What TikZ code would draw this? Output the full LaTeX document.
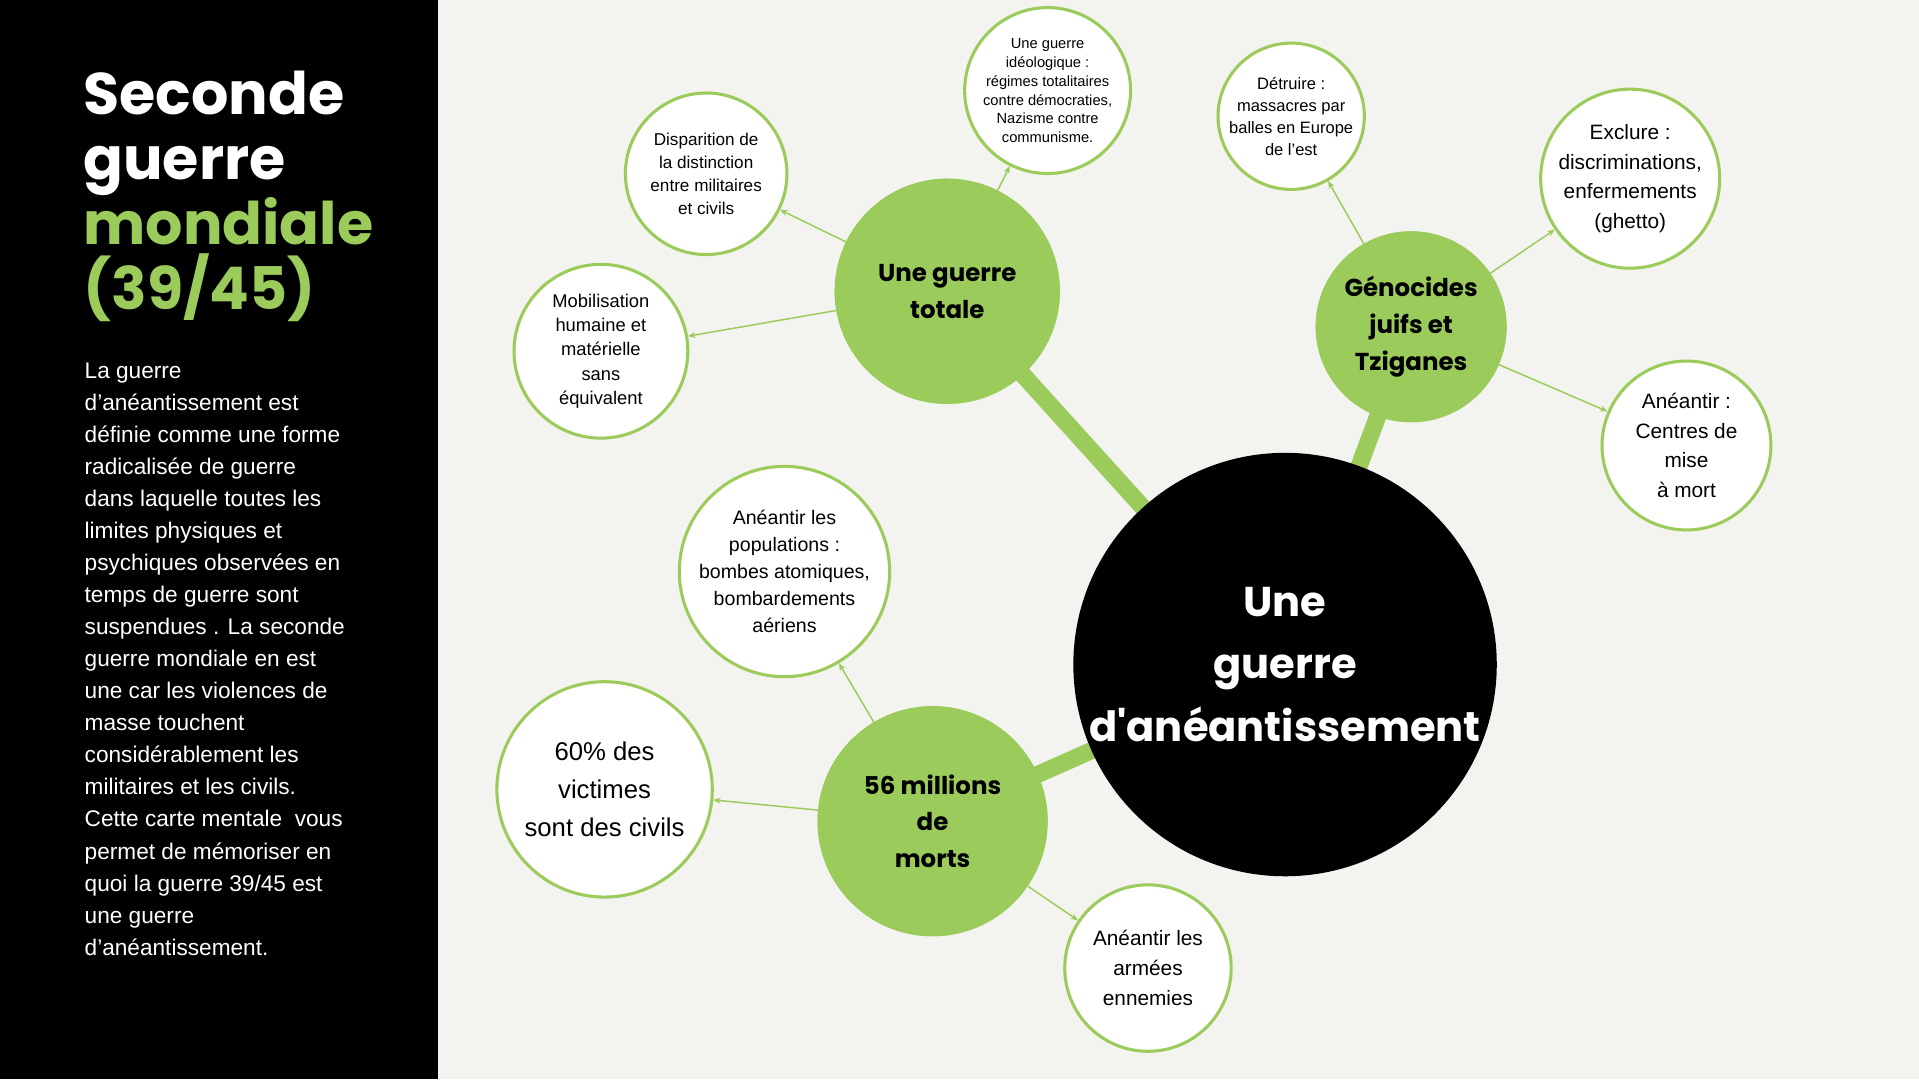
\documentclass[tikz,border=0pt]{standalone}
\usepackage{fontspec}
\setmainfont{Liberation Sans}
\newfontfamily\pop{Poppins}
\usetikzlibrary{arrows.meta}
\definecolor{gr}{HTML}{9BCB5B}
\definecolor{bg}{HTML}{F3F4EF}
\tikzset{
 wc/.style={circle,draw=gr,line width=2.5pt,fill=white,align=center,inner sep=0pt,text=black},
 gc/.style={circle,fill=gr,align=center,inner sep=0pt,font=\pop\bfseries\fontsize{20}{30}\selectfont},
 thk/.style={draw=gr,line width=14pt},
 thn/.style={draw=gr,line width=1.2pt,-{Stealth[length=6pt,width=5pt]}},
}
\begin{document}
\begin{tikzpicture}[x=1pt,y=-1pt]
\fill[bg] (0,0) rectangle (1568,882);
\fill[black] (0,0) rectangle (358,882);
\useasboundingbox (0,0) rectangle (1568,882);
\node[anchor=north west,align=left,inner sep=0pt,font=\pop\bfseries\fontsize{48}{53}\selectfont,text=white] (title) at (68,58)
 {Seconde\\guerre\\\textcolor{gr}{mondiale}\\\textcolor{gr}{(39/45)}};
\node[anchor=north west,align=left,inner sep=0pt,text=white,font=\fontsize{18.5}{26.2}\selectfont] (body) at (69,296)
 {La guerre\\d'anéantissement est\\définie comme une forme\\radicalisée de guerre\\dans laquelle toutes les\\limites physiques et\\psychiques observées en\\temps de guerre sont\\suspendues . La seconde\\guerre mondiale en est\\une car les violences de\\masse touchent\\considérablement les\\militaires et les civils.\\Cette carte mentale \ vous\\permet de mémoriser en\\quoi la guerre 39/45 est\\une guerre\\d'anéantissement.};
% centers
\coordinate (cc) at (1050,543);
\node[gc,minimum size=184pt] (tot) at (774,238) {Une guerre\\totale};
\node[gc,minimum size=156pt] (gen) at (1153,267) {Génocides\\juifs et\\Tziganes};
\node[gc,minimum size=188pt] (mor) at (762,671) {56 millions\\de\\morts};
\draw[thk] (cc) -- (tot.center);
\draw[thk] (cc) -- (gen.center);
\draw[thk] (cc) -- (mor.center);
\node[gc,minimum size=184pt] at (774,238) {Une guerre\\totale};
\node[gc,minimum size=156pt] at (1153,267) {Génocides\\juifs et\\Tziganes};
\node[gc,minimum size=188pt] at (762,671) {56 millions\\de\\morts};
\node[circle,fill=black,minimum size=346pt,inner sep=0pt,align=center,text=white,font=\pop\bfseries\fontsize{34}{51}\selectfont] (cen) at (cc) {Une\\guerre\\d'anéantissement};
% white
\node[wc,minimum size=132pt,font=\fontsize{14}{19}\selectfont] (dis) at (577,142) {Disparition de\\la distinction\\entre militaires\\et civils};
\node[wc,minimum size=132pt,font=\fontsize{12}{15.5}\selectfont] (ideo) at (856,74) {Une guerre\\idéologique :\\régimes totalitaires\\contre démocraties,\\Nazisme contre\\communisme.};
\node[wc,minimum size=142pt,font=\fontsize{15}{20}\selectfont] (mob) at (491,287) {Mobilisation\\humaine et\\matérielle\\sans\\équivalent};
\node[wc,minimum size=114pt,font=\fontsize{13.5}{18}\selectfont] (det) at (1055,95) {Détruire :\\massacres par\\balles en Europe\\de l'est};
\node[wc,minimum size=138pt,font=\fontsize{17}{24}\selectfont] (exc) at (1332,146) {Exclure :\\discriminations,\\enfermements\\(ghetto)};
\node[wc,minimum size=138pt,font=\fontsize{17}{24}\selectfont] (cen2) at (1378,364) {Anéantir :\\Centres de\\mise\\à mort};
\node[wc,minimum size=166pt,font=\fontsize{16}{22}\selectfont] (pop) at (641,467) {Anéantir les\\populations :\\bombes atomiques,\\bombardements\\aériens};
\node[wc,minimum size=176pt,font=\fontsize{21}{31}\selectfont] (civ) at (494,645) {60\% des\\victimes\\sont des civils};
\node[wc,minimum size=136pt,font=\fontsize{17}{24.5}\selectfont] (arm) at (938,791) {Anéantir les\\armées\\ennemies};
% arrows
\draw[thn] (tot) -- (dis);
\draw[thn] (tot) -- (ideo);
\draw[thn] (tot) -- (mob);
\draw[thn] (gen) -- (det);
\draw[thn] (gen) -- (exc);
\draw[thn] (gen) -- (cen2);
\draw[thn] (mor) -- (pop);
\draw[thn] (mor) -- (civ);
\draw[thn] (mor) -- (arm);
\end{tikzpicture}
\end{document}
